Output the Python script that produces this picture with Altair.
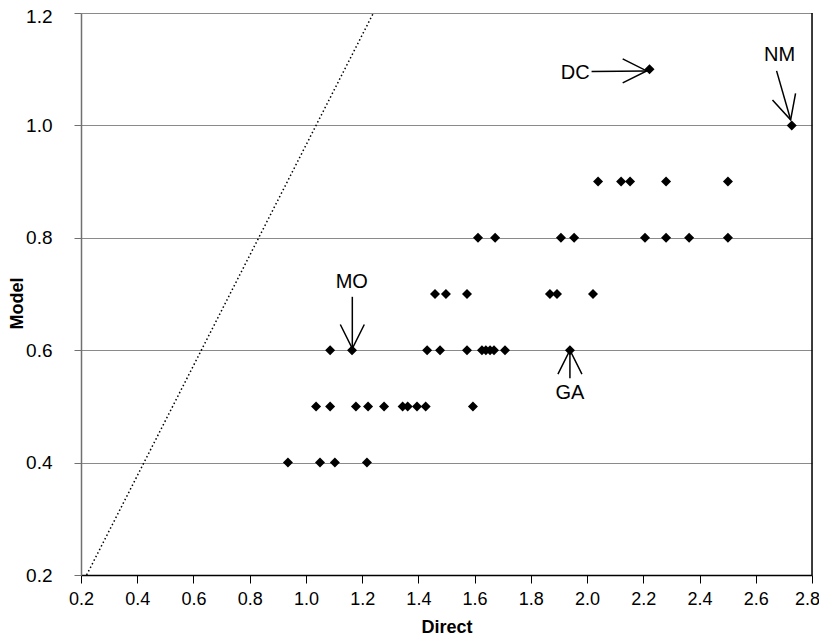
import altair as alt
import pandas as pd

# ---- data ----
direct_vals = [
    0.936, 1.050, 1.103, 1.217,
    1.036, 1.086, 1.178, 1.221, 1.278, 1.344, 1.362, 1.395, 1.426, 1.594,
    1.086, 1.164, 1.431, 1.477, 1.573, 1.626, 1.640, 1.655, 1.669, 1.708, 1.939,
    1.459, 1.498, 1.573, 1.868, 1.893, 2.021,
    1.612, 1.673, 1.907, 1.954, 2.206, 2.281, 2.363, 2.501,
    2.039, 2.121, 2.153, 2.281, 2.501,
    2.222, 2.728,
]
model_vals = (
    [0.4] * 4 + [0.5] * 10 + [0.6] * 11 + [0.7] * 6 + [0.8] * 8 + [0.9] * 5
    + [1.1, 1.0]
)

x_ticks = [0.2, 0.4, 0.6, 0.8, 1.0, 1.2, 1.4, 1.6, 1.8, 2.0, 2.2, 2.4, 2.6, 2.8]
y_ticks = [0.2, 0.4, 0.6, 0.8, 1.0, 1.2]

line_x = [0.22, 1.24]
line_y = [0.2, 1.2]

ann_labels = ["DC", "NM", "MO", "GA"]
ann_text_x = [1.958, 2.685, 1.163, 1.939]
ann_text_y = [1.094, 1.125, 0.722, 0.523]
arrow_tail_x = [2.016, 2.674, 1.165, 1.939]
arrow_tail_y = [1.096, 1.097, 0.695, 0.550]
arrow_tip_x = [2.212, 2.724, 1.165, 1.939]
arrow_tip_y = [1.097, 1.010, 0.603, 0.600]
arrow_angle = [0, 74, 90, 270]

pts = pd.DataFrame({"Direct": direct_vals, "Model": model_vals})
ref = pd.DataFrame({"Direct": line_x, "Model": line_y})
ann = pd.DataFrame({
    "label": ann_labels, "tx": ann_text_x, "ty": ann_text_y,
    "ax": arrow_tail_x, "ay": arrow_tail_y,
    "bx": arrow_tip_x, "by": arrow_tip_y, "angle": arrow_angle,
})
frame = pd.DataFrame({"x": [x_ticks[-1]], "y": [y_ticks[0]], "y2": [y_ticks[-1]]})

W, H = 731, 562
xs = alt.Scale(domain=[0.2, 2.8], nice=False, zero=False)
ys = alt.Scale(domain=[0.2, 1.2], nice=False, zero=False)

FONT = "Liberation Sans"

x_axis = alt.Axis(
    values=x_ticks, format=".1f", title="Direct", grid=False,
    domainColor="black", domainWidth=1.5, tickColor="black", tickSize=8,
    labelFont=FONT, labelFontSize=18, labelColor="black",
    labelPadding=7, labelFlush=False,
    labelOffset={"condition": {"test": "datum.value >= 2.79", "value": -5}, "value": 0},
    titleFont=FONT, titleFontSize=18, titleFontWeight="bold",
    titleColor="black", titleY=57, titleBaseline="alphabetic",
)
y_axis = alt.Axis(
    values=y_ticks, format=".1f", title="Model", grid=True,
    gridColor="#8a8a8a", gridWidth=1, gridOpacity=1,
    domainColor="#707070", domainWidth=1.5, tickColor="#707070", tickSize=7,
    labelFont=FONT, labelFontSize=19, labelColor="black",
    labelPadding=22,
    labelOffset={"condition": {"test": "datum.value >= 1.19", "value": 3}, "value": 0},
    titleFont=FONT, titleFontSize=18, titleFontWeight="bold",
    titleColor="black", titleX=-64, titleY=290, titleAlign="center",
    titleBaseline="middle", titleAngle=270,
)

points = alt.Chart(pts).mark_point(
    shape="diamond", filled=True, color="black", size=100, opacity=1
).encode(
    x=alt.X("Direct:Q", scale=xs, axis=x_axis),
    y=alt.Y("Model:Q", scale=ys, axis=y_axis),
)

dotted = alt.Chart(ref).mark_line(
    color="black", strokeWidth=1.5, strokeDash=[1.5, 2.5]
).encode(
    x=alt.X("Direct:Q", scale=xs, axis=x_axis),
    y=alt.Y("Model:Q", scale=ys, axis=y_axis),
)

border = alt.Chart(frame).mark_rule(color="black", strokeWidth=1.5).encode(
    x=alt.X("x:Q", scale=xs, axis=x_axis),
    y=alt.Y("y:Q", scale=ys, axis=y_axis),
    y2="y2:Q",
)

texts = alt.Chart(ann).mark_text(
    font=FONT, fontSize=20, color="black",
    align="center", baseline="middle"
).encode(
    x=alt.X("tx:Q", scale=xs, axis=x_axis),
    y=alt.Y("ty:Q", scale=ys, axis=y_axis),
    text="label:N",
)

shafts = alt.Chart(ann).mark_rule(color="black", strokeWidth=1.5).encode(
    x=alt.X("ax:Q", scale=xs, axis=x_axis),
    y=alt.Y("ay:Q", scale=ys, axis=y_axis),
    x2="bx:Q", y2="by:Q",
)

heads = alt.Chart(ann).mark_point(
    shape="M -1 -0.5 L 0 0 L -1 0.5", filled=False, color="black",
    strokeWidth=1.5, size=2304, opacity=1
).encode(
    x=alt.X("bx:Q", scale=xs, axis=x_axis),
    y=alt.Y("by:Q", scale=ys, axis=y_axis),
    angle=alt.Angle("angle:Q", scale=None),
)

chart = alt.layer(points, dotted, border, shafts, heads, texts).properties(
    width=W, height=H,
    autosize=alt.AutoSizeParams(type="none"),
    padding={"left": 73, "top": 5, "right": 7, "bottom": 60},
).configure_view(stroke=None).configure(background="white")

chart.save("out.html", embed_options={"renderer": "svg", "actions": False})
